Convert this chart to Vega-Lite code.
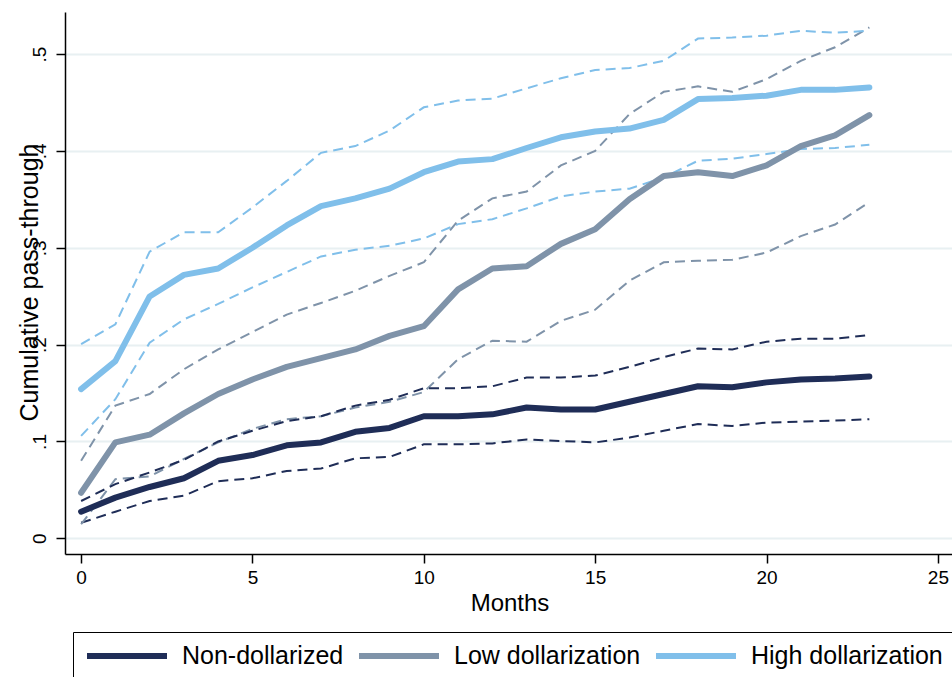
{
  "$schema": "https://vega.github.io/schema/vega-lite/v6.json",
  "autosize": {"type": "none"},
  "padding": {"left": 65, "top": 12, "right": 0, "bottom": 123},
  "width": 889,
  "height": 542,
  "background": "white",
  "config": {
    "view": {"stroke": null},
    "font": "Liberation Sans, Arial, Helvetica, sans-serif",
    "axis": {
      "domainColor": "black", "domainWidth": 1.5,
      "tickColor": "black", "tickWidth": 1.5, "tickSize": 9, "ticks": true,
      "labelColor": "black", "titleColor": "black",
      "labelFont": "Liberation Sans, Arial, Helvetica, sans-serif",
      "titleFont": "Liberation Sans, Arial, Helvetica, sans-serif",
      "titleFontWeight": "normal"
    }
  },
  "data": {"values": [
    {"month":0,"group":"Non-dollarized","est":0.0275,"lo":0.016,"hi":0.0385},
    {"month":1,"group":"Non-dollarized","est":0.042,"lo":0.0275,"hi":0.056},
    {"month":2,"group":"Non-dollarized","est":0.053,"lo":0.0385,"hi":0.068},
    {"month":3,"group":"Non-dollarized","est":0.062,"lo":0.044,"hi":0.081},
    {"month":4,"group":"Non-dollarized","est":0.080,"lo":0.059,"hi":0.100},
    {"month":5,"group":"Non-dollarized","est":0.086,"lo":0.062,"hi":0.111},
    {"month":6,"group":"Non-dollarized","est":0.096,"lo":0.0695,"hi":0.121},
    {"month":7,"group":"Non-dollarized","est":0.099,"lo":0.072,"hi":0.126},
    {"month":8,"group":"Non-dollarized","est":0.110,"lo":0.0826,"hi":0.137},
    {"month":9,"group":"Non-dollarized","est":0.114,"lo":0.084,"hi":0.143},
    {"month":10,"group":"Non-dollarized","est":0.126,"lo":0.097,"hi":0.155},
    {"month":11,"group":"Non-dollarized","est":0.126,"lo":0.097,"hi":0.155},
    {"month":12,"group":"Non-dollarized","est":0.128,"lo":0.098,"hi":0.157},
    {"month":13,"group":"Non-dollarized","est":0.135,"lo":0.102,"hi":0.166},
    {"month":14,"group":"Non-dollarized","est":0.133,"lo":0.1005,"hi":0.166},
    {"month":15,"group":"Non-dollarized","est":0.133,"lo":0.099,"hi":0.168},
    {"month":16,"group":"Non-dollarized","est":0.141,"lo":0.104,"hi":0.177},
    {"month":17,"group":"Non-dollarized","est":0.149,"lo":0.111,"hi":0.187},
    {"month":18,"group":"Non-dollarized","est":0.157,"lo":0.118,"hi":0.196},
    {"month":19,"group":"Non-dollarized","est":0.156,"lo":0.116,"hi":0.195},
    {"month":20,"group":"Non-dollarized","est":0.161,"lo":0.1195,"hi":0.203},
    {"month":21,"group":"Non-dollarized","est":0.164,"lo":0.1205,"hi":0.206},
    {"month":22,"group":"Non-dollarized","est":0.165,"lo":0.1215,"hi":0.206},
    {"month":23,"group":"Non-dollarized","est":0.167,"lo":0.123,"hi":0.210},
    {"month":0,"group":"Low dollarization","est":0.047,"lo":0.0145,"hi":0.080},
    {"month":1,"group":"Low dollarization","est":0.099,"lo":0.061,"hi":0.137},
    {"month":2,"group":"Low dollarization","est":0.107,"lo":0.064,"hi":0.149},
    {"month":3,"group":"Low dollarization","est":0.129,"lo":0.082,"hi":0.1745},
    {"month":4,"group":"Low dollarization","est":0.149,"lo":0.099,"hi":0.195},
    {"month":5,"group":"Low dollarization","est":0.164,"lo":0.113,"hi":0.213},
    {"month":6,"group":"Low dollarization","est":0.177,"lo":0.123,"hi":0.231},
    {"month":7,"group":"Low dollarization","est":0.186,"lo":0.126,"hi":0.243},
    {"month":8,"group":"Low dollarization","est":0.195,"lo":0.135,"hi":0.2555},
    {"month":9,"group":"Low dollarization","est":0.209,"lo":0.141,"hi":0.271},
    {"month":10,"group":"Low dollarization","est":0.219,"lo":0.151,"hi":0.285},
    {"month":11,"group":"Low dollarization","est":0.257,"lo":0.185,"hi":0.328},
    {"month":12,"group":"Low dollarization","est":0.2786,"lo":0.204,"hi":0.351},
    {"month":13,"group":"Low dollarization","est":0.281,"lo":0.203,"hi":0.358},
    {"month":14,"group":"Low dollarization","est":0.304,"lo":0.2245,"hi":0.385},
    {"month":15,"group":"Low dollarization","est":0.319,"lo":0.236,"hi":0.400},
    {"month":16,"group":"Low dollarization","est":0.350,"lo":0.266,"hi":0.438},
    {"month":17,"group":"Low dollarization","est":0.374,"lo":0.285,"hi":0.461},
    {"month":18,"group":"Low dollarization","est":0.378,"lo":0.2865,"hi":0.4666},
    {"month":19,"group":"Low dollarization","est":0.374,"lo":0.2875,"hi":0.461},
    {"month":20,"group":"Low dollarization","est":0.385,"lo":0.295,"hi":0.474},
    {"month":21,"group":"Low dollarization","est":0.405,"lo":0.312,"hi":0.493},
    {"month":22,"group":"Low dollarization","est":0.416,"lo":0.324,"hi":0.507},
    {"month":23,"group":"Low dollarization","est":0.437,"lo":0.347,"hi":0.5275},
    {"month":0,"group":"High dollarization","est":0.154,"lo":0.1057,"hi":0.2004},
    {"month":1,"group":"High dollarization","est":0.183,"lo":0.1436,"hi":0.221},
    {"month":2,"group":"High dollarization","est":0.2497,"lo":0.202,"hi":0.296},
    {"month":3,"group":"High dollarization","est":0.272,"lo":0.226,"hi":0.316},
    {"month":4,"group":"High dollarization","est":0.2786,"lo":0.242,"hi":0.316},
    {"month":5,"group":"High dollarization","est":0.300,"lo":0.259,"hi":0.3416},
    {"month":6,"group":"High dollarization","est":0.323,"lo":0.275,"hi":0.369},
    {"month":7,"group":"High dollarization","est":0.343,"lo":0.291,"hi":0.398},
    {"month":8,"group":"High dollarization","est":0.351,"lo":0.298,"hi":0.405},
    {"month":9,"group":"High dollarization","est":0.361,"lo":0.302,"hi":0.421},
    {"month":10,"group":"High dollarization","est":0.378,"lo":0.3096,"hi":0.445},
    {"month":11,"group":"High dollarization","est":0.389,"lo":0.3244,"hi":0.452},
    {"month":12,"group":"High dollarization","est":0.3915,"lo":0.3295,"hi":0.454},
    {"month":13,"group":"High dollarization","est":0.403,"lo":0.3406,"hi":0.4646},
    {"month":14,"group":"High dollarization","est":0.414,"lo":0.353,"hi":0.475},
    {"month":15,"group":"High dollarization","est":0.420,"lo":0.358,"hi":0.4835},
    {"month":16,"group":"High dollarization","est":0.423,"lo":0.361,"hi":0.4855},
    {"month":17,"group":"High dollarization","est":0.432,"lo":0.3726,"hi":0.493},
    {"month":18,"group":"High dollarization","est":0.4535,"lo":0.3898,"hi":0.516},
    {"month":19,"group":"High dollarization","est":0.4545,"lo":0.392,"hi":0.517},
    {"month":20,"group":"High dollarization","est":0.457,"lo":0.3967,"hi":0.519},
    {"month":21,"group":"High dollarization","est":0.463,"lo":0.4019,"hi":0.524},
    {"month":22,"group":"High dollarization","est":0.463,"lo":0.403,"hi":0.522},
    {"month":23,"group":"High dollarization","est":0.4655,"lo":0.4063,"hi":0.524}
  ]},
  "resolve": {"scale": {"color": "independent"}, "legend": {"color": "independent"}},
  "layer": [
    {
      "mark": {"type": "line", "strokeWidth": 2, "strokeDash": [10, 6]},
      "encoding": {
        "x": {"field": "month", "type": "quantitative",
          "scale": {"domain": [-0.47, 25.47], "nice": false, "zero": false},
          "axis": {"values": [0, 5, 10, 15, 20, 25], "grid": false, "title": "Months",
            "labelFontSize": 19, "labelPadding": 5, "labelBaseline": "top",
            "titleFontSize": 24, "titlePadding": 4}},
        "y": {"field": "lo", "type": "quantitative",
          "scale": {"domain": [-0.0162, 0.5434], "nice": false, "zero": false},
          "axis": {"values": [0, 0.1, 0.2, 0.3, 0.4, 0.5], "grid": true, "ticks": true,
            "gridColor": "#e8f0f2", "gridWidth": 2,
            "labelExpr": "datum.value == 0 ? '0' : replace(format(datum.value, '.1f'), '0.', '.')",
            "labelAngle": -90, "labelAlign": "center", "labelBaseline": "alphabetic",
            "labelFontSize": 19, "labelPadding": 11,
            "title": "Cumulative pass-through", "titleFontSize": 25,
            "titleAngle": -90, "titleAlign": "center", "titleBaseline": "alphabetic",
            "titleX": -28, "titleY": 270}},
        "color": {"field": "group", "type": "nominal",
          "scale": {"domain": ["Non-dollarized", "Low dollarization", "High dollarization"],
                    "range": ["#1f2d57", "#7f93a9", "#80bfea"]},
          "legend": null}
      }
    },
    {
      "mark": {"type": "line", "strokeWidth": 2, "strokeDash": [10, 6]},
      "encoding": {
        "x": {"field": "month", "type": "quantitative"},
        "y": {"field": "hi", "type": "quantitative"},
        "color": {"field": "group", "type": "nominal",
          "scale": {"domain": ["Non-dollarized", "Low dollarization", "High dollarization"],
                    "range": ["#1f2d57", "#7f93a9", "#80bfea"]},
          "legend": null}
      }
    },
    {
      "mark": {"type": "line", "strokeWidth": 6, "strokeCap": "round", "strokeJoin": "round"},
      "encoding": {
        "x": {"field": "month", "type": "quantitative"},
        "y": {"field": "est", "type": "quantitative"},
        "color": {"field": "group", "type": "nominal",
          "sort": ["Non-dollarized", "Low dollarization", "High dollarization"],
          "scale": {"domain": ["Non-dollarized", "Low dollarization", "High dollarization"],
                    "range": ["#1f2d57", "#7f93a9", "#80bfea"]},
          "legend": {"orient": "none", "legendX": 8, "legendY": 620, "direction": "horizontal",
            "title": null, "strokeColor": "black", "padding": 11, "clipHeight": 26,
            "symbolType": "stroke", "symbolSize": 6400, "symbolStrokeWidth": 6,
            "labelFontSize": 25, "labelOffset": 12, "columnPadding": 12, "labelLimit": 400,
            "labelColor": "black", "labelFont": "Liberation Sans, Arial, Helvetica, sans-serif"}}
      }
    }
  ]
}
